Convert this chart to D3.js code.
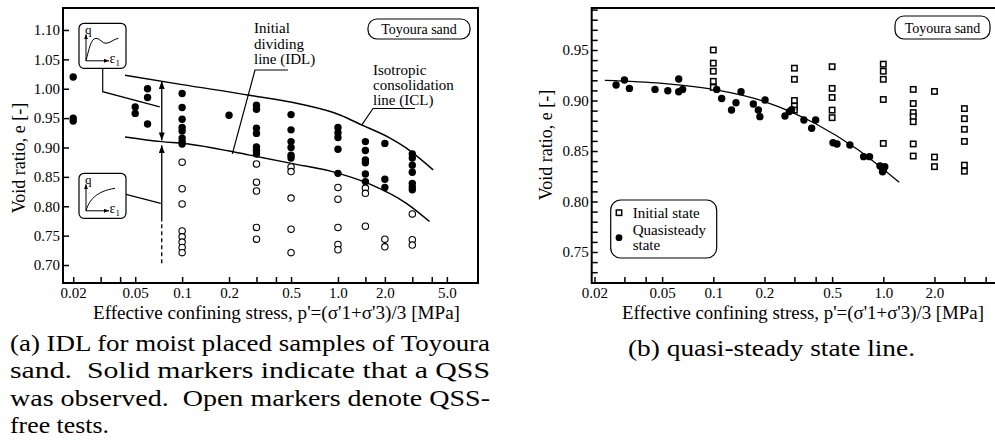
<!DOCTYPE html>
<html>
<head>
<meta charset="utf-8">
<script src="https://cdn.jsdelivr.net/npm/d3@7"></script>
<style>
  body { margin: 0; background: #fff; }
  svg { display: block; }
  text { font-family: "Liberation Serif", "Times New Roman", serif; fill: #000; }
</style>
</head>
<body>
<svg id="fig" width="995" height="448"></svg>
<script>
// ---------- panel (a): IDL, moist placed Toyoura sand ----------
const qssPressA = [0.02, 0.05, 0.06, 0.1, 0.2, 0.3, 0.5, 1.0, 1.5, 2.0, 3.0];
const qssVoidA = [
  [1.02, 0.950, 0.945],
  [0.969, 0.958],
  [1.000, 0.985, 0.940],
  [0.992, 0.968, 0.948, 0.934, 0.928, 0.916, 0.910, 0.906],
  [0.955],
  [0.972, 0.965, 0.933, 0.924, 0.901, 0.895, 0.889],
  [0.956, 0.930, 0.910, 0.900, 0.887, 0.882],
  [0.934, 0.925, 0.917, 0.897, 0.856],
  [0.910, 0.895, 0.879, 0.874, 0.855, 0.842],
  [0.907, 0.846, 0.832],
  [0.889, 0.882, 0.870, 0.858, 0.839, 0.833, 0.828]
];
const freePressA = [0.1, 0.3, 0.5, 1.0, 1.5, 2.0, 3.0];
const freeVoidA = [
  [0.875, 0.830, 0.804, 0.758, 0.748, 0.739, 0.730, 0.721],
  [0.872, 0.841, 0.826, 0.764, 0.744],
  [0.867, 0.859, 0.814, 0.761, 0.721],
  [0.832, 0.812, 0.764, 0.735, 0.726],
  [0.831, 0.822, 0.766],
  [0.744, 0.731],
  [0.787, 0.743, 0.734]
];
const iclPress = [0.043, 0.1, 0.27, 0.57, 1.04, 1.43, 2.16, 2.75, 4.08];
const iclVoid = [1.023, 1.007, 0.989, 0.974, 0.955, 0.938, 0.916, 0.899, 0.862];
const idlPress = [0.043, 0.074, 0.103, 0.272, 0.503, 1.01, 1.66, 2.75, 3.87];
const idlVoid = [0.918, 0.910, 0.907, 0.887, 0.873, 0.856, 0.836, 0.805, 0.774];
const xTicksA = [0.02, 0.03, 0.04, 0.05, 0.1, 0.2, 0.3, 0.4, 0.5, 1, 1.5, 2, 3, 4, 5];
const xLabelsA = ["0.02", "", "", "0.05", "0.1", "0.2", "", "", "0.5", "1.0", "", "2.0", "", "", "5.0"];
const yTicksA = [0.70, 0.75, 0.80, 0.85, 0.90, 0.95, 1.00, 1.05, 1.10];

// ---------- panel (b): quasi-steady state line ----------
const initPressB = [0.1, 0.3, 0.5, 1.0, 1.5, 2.0, 3.0];
const initVoidB = [
  [0.950, 0.937, 0.929, 0.919, 0.913],
  [0.932, 0.921, 0.900, 0.8945, 0.8905],
  [0.9335, 0.912, 0.903, 0.8905, 0.883],
  [0.936, 0.929, 0.921, 0.901, 0.8575],
  [0.911, 0.897, 0.888, 0.884, 0.879, 0.857, 0.845],
  [0.909, 0.844, 0.8345],
  [0.892, 0.882, 0.8715, 0.8595, 0.836, 0.830]
];
const qssPressB = [0.0268, 0.030, 0.0321, 0.0454, 0.054, 0.0626, 0.0626, 0.066, 0.1047, 0.112,
  0.128, 0.136, 0.1456, 0.172, 0.184, 0.188, 0.2016, 0.264, 0.28, 0.289, 0.341, 0.379, 0.40,
  0.506, 0.534, 0.636, 0.766, 0.83, 0.956, 0.99, 1.0, 1.02];
const qssVoidB = [0.9153, 0.9203, 0.912, 0.911, 0.9097, 0.9213, 0.9087, 0.911, 0.911, 0.902,
  0.8906, 0.8978, 0.9087, 0.8965, 0.8906, 0.884, 0.9005, 0.8847, 0.889, 0.891, 0.8807, 0.8725, 0.8807,
  0.8582, 0.857, 0.856, 0.8444, 0.8444, 0.8352, 0.8295, 0.8312, 0.8345];
const qsslPress = [0.023, 0.05, 0.1, 0.2, 0.4, 0.7, 1.24];
const qsslVoid = [0.920, 0.917, 0.911, 0.899, 0.877, 0.852, 0.819];
const xTicksB = [0.02, 0.03, 0.04, 0.05, 0.1, 0.2, 0.3, 0.4, 0.5, 1, 2, 3, 4];
const xLabelsB = ["0.02", "", "", "0.05", "0.1", "0.2", "", "", "0.5", "1.0", "2.0", "", ""];
const yTicksB = d3.range(72, 100).map(v => v / 100);

const xTitle = "Effective confining stress, p'=(\u03c3'1+\u03c3'3)/3 [MPa]";
const yTitle = "Void ratio, e [-]";
const captionA = ["(a) IDL for moist placed samples of Toyoura",
  "sand.  Solid markers indicate that a QSS",
  "was observed.  Open markers denote QSS-",
  "free tests."];
const captionAWidths = [480, 480, 480, 99];
const captionB = "(b) quasi-steady state line.";

const svg = d3.select("#fig");
const defs = svg.append("defs");
defs.append("marker").attr("id", "ah")
  .attr("viewBox", "0 0 8 6").attr("refX", 8).attr("refY", 3)
  .attr("markerWidth", 8).attr("markerHeight", 6)
  .attr("markerUnits", "userSpaceOnUse").attr("orient", "auto-start-reverse")
  .append("path").attr("d", "M0,0L8,3L0,6Z").attr("fill", "#000");
defs.append("marker").attr("id", "ahs")
  .attr("viewBox", "0 0 5 4").attr("refX", 5).attr("refY", 2)
  .attr("markerWidth", 5).attr("markerHeight", 4)
  .attr("markerUnits", "userSpaceOnUse").attr("orient", "auto")
  .append("path").attr("d", "M0,0L5,2L0,4Z").attr("fill", "#000");

function flatten(press, voids) {
  return voids.flatMap((col, i) => col.map(e => ({ p: press[i], e: e })));
}

function frame(cfg) {
  const x = d3.scaleLog().domain(cfg.xDomain).range([cfg.left, cfg.right]);
  const y = d3.scaleLinear().domain(cfg.yDomain).range([cfg.bottom, cfg.top]);
  const g = svg.append("g");

  const xa = g.append("g").attr("transform", `translate(0,${cfg.bottom})`)
    .call(d3.axisBottom(x).tickValues(cfg.xTicks).tickSize(-6).tickPadding(4)
      .tickFormat((d, i) => cfg.xLabels[i]));
  const ya = g.append("g").attr("transform", `translate(${cfg.left},0)`)
    .call(d3.axisLeft(y).tickValues(cfg.yTicks).tickSize(-6).tickPadding(3)
      .tickFormat(cfg.yFormat));
  [xa, ya].forEach(a => {
    a.attr("font-family", null).attr("font-size", 15);
    a.select(".domain").remove();
    a.selectAll(".tick line").attr("stroke-width", 1.5);
  });

  g.append("rect")
    .attr("x", cfg.left).attr("y", cfg.top)
    .attr("width", cfg.right - cfg.left).attr("height", cfg.bottom - cfg.top)
    .attr("fill", "none").attr("stroke", "#000").attr("stroke-width", 2);

  g.append("text")
    .attr("x", cfg.titleX).attr("y", 319)
    .attr("font-size", 18)
    .attr("textLength", cfg.titleW).attr("lengthAdjust", "spacingAndGlyphs")
    .text(xTitle);
  g.append("text")
    .attr("transform", `translate(${cfg.yTitleX},${cfg.yTitleY}) rotate(-90)`)
    .attr("text-anchor", "middle").attr("font-size", 18)
    .text(yTitle);

  // sample name box
  const tb = cfg.tag;
  g.append("rect").attr("x", tb[0]).attr("y", tb[1]).attr("width", tb[2]).attr("height", tb[3])
    .attr("rx", 9).attr("fill", "#fff").attr("stroke", "#000").attr("stroke-width", 1.2);
  g.append("text").attr("x", tb[0] + tb[2] / 2).attr("y", tb[1] + tb[3] / 2 + 5)
    .attr("text-anchor", "middle").attr("font-size", 14).text("Toyoura sand");

  return { g, x, y };
}

const line = (x, y) => d3.line().x(d => x(d[0])).y(d => y(d[1])).curve(d3.curveMonotoneX);

// ================= panel (a) =================
const A = frame({
  left: 63, right: 478, top: 8, bottom: 283,
  xDomain: [0.0172, 7.92], yDomain: [0.6694, 1.1374],
  xTicks: xTicksA, xLabels: xLabelsA, yTicks: yTicksA,
  yFormat: d3.format(".2f"),
  titleX: 93, titleW: 367, yTitleX: 25, yTitleY: 158,
  tag: [368, 19, 102, 20]
});

A.g.append("path").datum(d3.zip(iclPress, iclVoid))
  .attr("d", line(A.x, A.y)).attr("fill", "none").attr("stroke", "#000").attr("stroke-width", 1.5);
A.g.append("path").datum(d3.zip(idlPress, idlVoid))
  .attr("d", line(A.x, A.y)).attr("fill", "none").attr("stroke", "#000").attr("stroke-width", 1.5);

A.g.append("g").selectAll("circle").data(flatten(freePressA, freeVoidA)).join("circle")
  .attr("cx", d => A.x(d.p)).attr("cy", d => A.y(d.e)).attr("r", 3.2)
  .attr("fill", "#fff").attr("stroke", "#000").attr("stroke-width", 1.1);
A.g.append("g").selectAll("circle").data(flatten(qssPressA, qssVoidA)).join("circle")
  .attr("cx", d => A.x(d.p)).attr("cy", d => A.y(d.e)).attr("r", 3.7).attr("fill", "#000");

// arrows at p = 0.074
const pa = A.x(0.074);
A.g.append("line").attr("x1", pa).attr("x2", pa).attr("y1", A.y(1.013)).attr("y2", A.y(0.912))
  .attr("stroke", "#000").attr("stroke-width", 1.3)
  .attr("marker-start", "url(#ah)").attr("marker-end", "url(#ah)");
A.g.append("line").attr("x1", pa).attr("x2", pa).attr("y1", A.y(0.774)).attr("y2", A.y(0.904))
  .attr("stroke", "#000").attr("stroke-width", 1.3).attr("marker-end", "url(#ah)");
A.g.append("line").attr("x1", pa).attr("x2", pa).attr("y1", A.y(0.703)).attr("y2", A.y(0.774))
  .attr("stroke", "#000").attr("stroke-width", 1.3).attr("stroke-dasharray", "4,3");

// line labels with leaders
function label(lines, x0, y0, dy) {
  A.g.append("g").selectAll("text").data(lines).join("text")
    .attr("x", x0).attr("y", (d, i) => y0 + i * dy).attr("font-size", 15).text(d => d);
}
label(["Initial", "dividing", "line (IDL)"], 254, 33, 15.5);
label(["Isotropic", "consolidation", "line (ICL)"], 373, 75, 15);
function leader(pts) {
  A.g.append("path").attr("d", d3.line()(pts))
    .attr("fill", "none").attr("stroke", "#000").attr("stroke-width", 1.2);
}
leader([[288, 70], [255, 70], [A.x(0.21), A.y(0.889)]]);
leader([[415, 108.5], [373, 108.5], [A.x(1.42), A.y(0.938)]]);

// inset sketches of q - eps1 response
function inset(bx, by, peaked, lead) {
  const g = A.g.append("g").attr("transform", `translate(${bx},${by})`);
  g.append("rect").attr("width", 47).attr("height", 45).attr("rx", 5)
    .attr("fill", "#fff").attr("stroke", "#000").attr("stroke-width", 1.2);
  g.append("line").attr("x1", 7).attr("y1", 37.5).attr("x2", 7).attr("y2", 11)
    .attr("stroke", "#000").attr("stroke-width", 1).attr("marker-end", "url(#ahs)");
  g.append("line").attr("x1", 7).attr("y1", 37.5).attr("x2", 30).attr("y2", 37.5)
    .attr("stroke", "#000").attr("stroke-width", 1).attr("marker-end", "url(#ahs)");
  g.append("text").attr("x", 6).attr("y", 11).attr("font-size", 13).text("q");
  const eps = g.append("text").attr("x", 30.5).attr("y", 40).attr("font-size", 14);
  eps.append("tspan").text("\u03b5");
  eps.append("tspan").attr("font-size", 9).attr("dy", 3).text("1");
  g.append("path")
    .attr("d", peaked
      ? "M7,37.5C10,26 12,15 17,15C21,15 23,20 27,20C31,20 35,15.5 39.5,15"
      : "M7,37.5C10,27 17,18 36,15")
    .attr("fill", "none").attr("stroke", "#000").attr("stroke-width", 1);
  leader(lead);
}
inset(79, 23.3, true, [[102.7, 68.3], [102.7, 91.7], [pa - 2, A.y(0.969)]]);
inset(79, 173.3, false, [[126, 194.3], [pa - 1, A.y(0.805)]]);

// ================= panel (b) =================
const B = frame({
  left: 591.7, right: 1000, top: 8, bottom: 283,
  xDomain: [0.01926, 4.859], yDomain: [0.7193, 0.9916],
  xTicks: xTicksB, xLabels: xLabelsB, yTicks: yTicksB,
  yFormat: d => (Math.round(d * 100) % 5 === 0 ? d3.format(".2f")(d) : ""),
  titleX: 622, titleW: 362, yTitleX: 552, yTitleY: 145,
  tag: [895, 16, 95, 23]
});

B.g.append("path").datum(d3.zip(qsslPress, qsslVoid))
  .attr("d", line(B.x, B.y)).attr("fill", "none").attr("stroke", "#000").attr("stroke-width", 1.3);

B.g.append("g").selectAll("rect").data(flatten(initPressB, initVoidB)).join("rect")
  .attr("x", d => B.x(d.p) - 2.7).attr("y", d => B.y(d.e) - 2.7)
  .attr("width", 5.4).attr("height", 5.4)
  .attr("fill", "#fff").attr("stroke", "#000").attr("stroke-width", 1.5);
B.g.append("g").selectAll("circle").data(d3.zip(qssPressB, qssVoidB)).join("circle")
  .attr("cx", d => B.x(d[0])).attr("cy", d => B.y(d[1])).attr("r", 3.7).attr("fill", "#000");

// legend
const lg = B.g.append("g").attr("transform", "translate(610.7,200)");
lg.append("rect").attr("width", 106).attr("height", 58).attr("rx", 10)
  .attr("fill", "#fff").attr("stroke", "#000").attr("stroke-width", 1.2);
lg.append("rect").attr("x", 5.6).attr("y", 10).attr("width", 5.4).attr("height", 5.4)
  .attr("fill", "#fff").attr("stroke", "#000").attr("stroke-width", 1.5);
lg.append("circle").attr("cx", 8.3).attr("cy", 37.7).attr("r", 3.4).attr("fill", "#000");
lg.append("text").attr("x", 22).attr("y", 17.5).attr("font-size", 15).text("Initial state");
lg.append("text").attr("x", 22).attr("y", 35).attr("font-size", 15).text("Quasisteady");
lg.append("text").attr("x", 22).attr("y", 50).attr("font-size", 15).text("state");

// ================= captions =================
svg.append("g").selectAll("text").data(captionA).join("text")
  .attr("x", 10).attr("y", (d, i) => 351 + i * 27.3)
  .attr("font-size", 23).style("white-space", "pre")
  .attr("textLength", (d, i) => captionAWidths[i])
  .attr("lengthAdjust", "spacingAndGlyphs")
  .text(d => d);
svg.append("text").attr("x", 628).attr("y", 356).attr("font-size", 23)
  .attr("textLength", 287).attr("lengthAdjust", "spacingAndGlyphs").text(captionB);
</script>
</body>
</html>
